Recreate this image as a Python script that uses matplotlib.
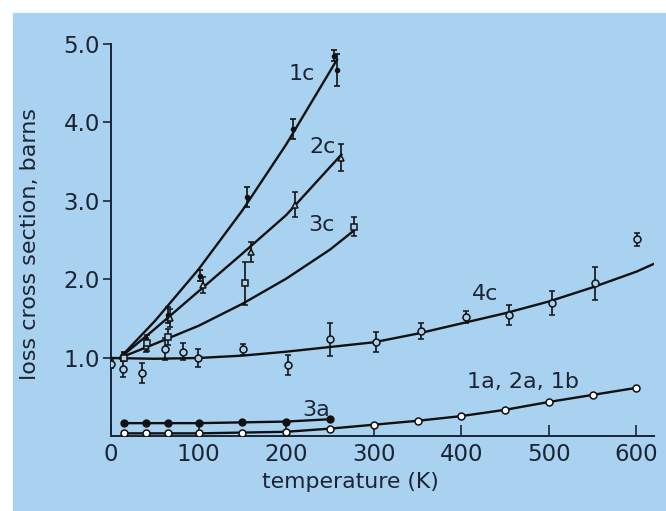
import matplotlib.pyplot as plt
from matplotlib.patches import Rectangle

plt.rcParams['font.family'] = ['DejaVu Sans']

ink = '#1c2433'
bg = '#a8d2ef'

# measured points (temperature K, cross section barns, error)
T_1c = [15, 40, 65, 102, 155, 208, 255, 258]
s_1c = [1.05, 1.2, 1.55, 2.05, 3.05, 3.92, 4.85, 4.67]
e_1c = [0.03, 0.05, 0.1, 0.07, 0.13, 0.13, 0.07, 0.2]

T_2c = [15, 40, 67, 105, 160, 210, 263]
s_2c = [1.02, 1.15, 1.51, 1.93, 2.35, 2.95, 3.55]
e_2c = [0.04, 0.08, 0.12, 0.1, 0.13, 0.16, 0.17]

T_3c = [15, 41, 65, 153, 277]
s_3c = [1.0, 1.19, 1.27, 1.95, 2.67]
e_3c = [0.04, 0.1, 0.1, 0.27, 0.12]

T_4c = [0, 14, 35, 62, 82, 99, 151, 202, 250, 303, 354, 405, 454, 504, 553, 601]
s_4c = [0.92, 0.86, 0.81, 1.11, 1.08, 1.0, 1.11, 0.91, 1.24, 1.2, 1.34, 1.52, 1.55, 1.7, 1.95, 2.51]
e_4c = [0.05, 0.1, 0.13, 0.14, 0.11, 0.12, 0.07, 0.13, 0.21, 0.13, 0.1, 0.08, 0.13, 0.15, 0.21, 0.08]

T_1a = [15, 40, 65, 100, 150, 200, 250, 300, 350, 400, 450, 500, 550, 600]
s_1a = [0.04, 0.04, 0.04, 0.04, 0.05, 0.06, 0.10, 0.15, 0.20, 0.26, 0.34, 0.44, 0.53, 0.62]

T_3a = [15, 40, 65, 100, 150, 200, 250]
s_3a = [0.17, 0.17, 0.17, 0.17, 0.18, 0.19, 0.22]

# fitted curves
fit_1c_T = [10, 50, 100, 150, 200, 258]
fit_1c_s = [1.0, 1.47, 2.13, 2.88, 3.72, 4.8]
fit_2c_T = [10, 50, 100, 150, 200, 263]
fit_2c_s = [1.0, 1.37, 1.85, 2.33, 2.82, 3.59]
fit_3c_T = [10, 50, 100, 150, 200, 250, 277]
fit_3c_s = [1.0, 1.18, 1.41, 1.69, 2.01, 2.38, 2.62]
fit_4c_T = [0, 50, 100, 150, 200, 250, 300, 350, 400, 450, 500, 550, 600, 620]
fit_4c_s = [1.0, 0.99, 1.0, 1.03, 1.08, 1.14, 1.2, 1.31, 1.44, 1.57, 1.72, 1.9, 2.1, 2.2]

fig = plt.figure(figsize=(6.66, 5.11), dpi=100)
fig.patch.set_facecolor('white')
panel = Rectangle((13 / 666, 0), 653 / 666, 498 / 511,
                  transform=fig.transFigure, color=bg, zorder=-10)
fig.add_artist(panel)

ax = fig.add_axes([0.1667, 0.1458, 0.8153, 0.7682])
ax.set_facecolor('none')
ax.set_zorder(1)

lw = 1.7
for tt, ss in [(fit_1c_T, fit_1c_s), (fit_2c_T, fit_2c_s),
               (fit_3c_T, fit_3c_s), (fit_4c_T, fit_4c_s)]:
    ax.plot(tt, ss, color='#111111', lw=lw, zorder=3)
ax.plot(T_1a, s_1a, color='#111111', lw=lw, zorder=3)
ax.plot(T_3a, s_3a, color='#111111', lw=lw, zorder=3)

eb = dict(ls='none', ecolor='#111111', elinewidth=1.2, capsize=2.5,
          capthick=1.2, zorder=4)
ax.errorbar(T_1c, s_1c, yerr=e_1c, marker='o', ms=3, mfc='#111111',
            mec='#111111', **eb)
ax.errorbar(T_2c, s_2c, yerr=e_2c, marker='^', ms=5, mfc=bg,
            mec='#111111', mew=1.1, **eb)
ax.errorbar(T_3c, s_3c, yerr=e_3c, marker='s', ms=5, mfc=bg,
            mec='#111111', mew=1.1, **eb)
ax.errorbar(T_4c, s_4c, yerr=e_4c, marker='o', ms=5, mfc=bg,
            mec='#111111', mew=1.1, **eb)
ax.plot(T_1a, s_1a, ls='none', marker='o', ms=5, mfc='white',
        mec='#111111', mew=1.1, zorder=5)
ax.plot(T_3a, s_3a, ls='none', marker='o', ms=5, mfc='#111111',
        mec='#111111', zorder=5)

labels = [('1c', 218, 4.62), ('2c', 241, 3.69), ('3c', 240, 2.69),
          ('4c', 427, 1.81), ('1a, 2a, 1b', 470, 0.69), ('3a', 234, 0.34)]
for txt, tx, ty in labels:
    ax.text(tx, ty, txt, fontsize=16, color=ink, ha='center', va='center')

ax.set_xlim(0, 620)
ax.set_ylim(0, 5.0)
for side in ('top', 'right'):
    ax.spines[side].set_visible(False)
for side in ('left', 'bottom'):
    ax.spines[side].set_color(ink)
    ax.spines[side].set_linewidth(1.4)

ax.set_xticks([0, 100, 200, 300, 400, 500, 600])
ax.set_yticks([1, 2, 3, 4, 5])
ax.set_yticklabels(['1.0', '2.0', '3.0', '4.0', '5.0'])
ax.tick_params(axis='x', direction='in', length=8, width=1.2, color=ink,
               labelsize=16.5, labelcolor=ink, pad=5)
ax.tick_params(axis='y', direction='out', length=6, width=1.2, color=ink,
               labelsize=16.5, labelcolor=ink, pad=2)
ax.set_xlabel('temperature (K)', fontsize=15.8, color=ink)
ax.set_ylabel('loss cross section, barns', fontsize=16, color=ink)
ax.xaxis.set_label_coords(0.44, -0.09)
ax.yaxis.set_label_coords(-0.13, 0.49)

fig.savefig('out.png', dpi=100)
